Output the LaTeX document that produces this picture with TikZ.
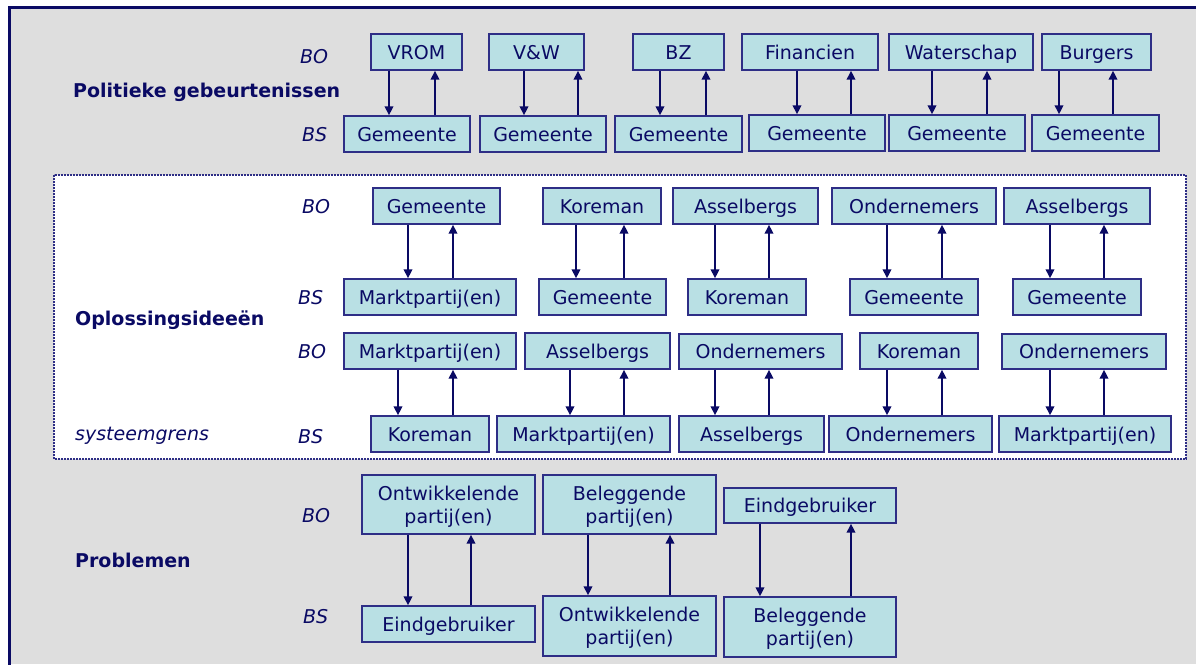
\documentclass[tikz,border=0pt]{standalone}
\usepackage{fontspec}
\setmainfont{DejaVu Sans}
\usetikzlibrary{arrows.meta}

\definecolor{ink}{RGB}{10,10,100}
\definecolor{boxline}{RGB}{46,46,134}
\definecolor{boxfill}{RGB}{185,224,228}
\definecolor{panel}{RGB}{222,222,222}

% actor box given by its corners: name, x1, y1, x2, y2, text
\newcommand\actor[7][]{%
  \node[actorbox,#1,
        minimum width={(#5-#3)*1pt}, minimum height={(#6-#4)*1pt}]
        (#2) at ({(#3+#5)/2},{(#4+#6)/2}) {#7};}

% down arrow (upper -> lower) and up arrow (lower -> upper) at two x positions
\newcommand\exchange[4]{%
  \coordinate (xdn) at (#3,0);
  \coordinate (xup) at (#4,0);
  \draw[flow] (#1.south -| xdn) -- (#2.north -| xdn);
  \draw[flow] (#2.north -| xup) -- (#1.south -| xup);}

\begin{document}
\begin{tikzpicture}[x=1pt,y=-1pt,
  actorbox/.style={draw=boxline, fill=boxfill, line width=1.4pt, inner sep=0pt,
    text=ink, font=\fontsize{19}{23}\selectfont,
    text height=17.5pt, text depth=3.5pt},
  twoline/.style={align=center, text height=40.5pt, text depth=3.5pt},
  flow/.style={draw=ink, line width=1.8pt, -{Triangle[width=8.5pt,length=9pt]}},
  lab/.style={inner sep=0pt, anchor=base west, text=ink,
    font=\fontsize{19}{23}\selectfont\itshape},
  head/.style={inner sep=0pt, anchor=base west, text=ink,
    font=\fontsize{19}{23}\selectfont\bfseries}]

\useasboundingbox (0,0) rectangle (1196,664);
\fill[white] (0,0) rectangle (1196,664);
\fill[panel] (9,7) rectangle (1196,664);
\draw[ink, line width=3pt] (9,666) -- (9,7) -- (1198,7);

% system boundary
\draw[boxline, fill=white, line width=1.6pt, dash pattern=on 1.6pt off 1.4pt]
  (54,175) rectangle (1186,459);

% ---------- Politieke gebeurtenissen ----------
\node[head] (hpol) at (73,97) {Politieke gebeurtenissen};
\node[lab] (pbo) at (300,63) {BO};
\node[lab] (pbs) at (302,141) {BS};

\actor{p1o}{371}{34}{462}{70}{VROM}
\actor{p1s}{344}{116}{470}{152}{Gemeente}
\exchange{p1o}{p1s}{389}{435}
\actor{p2o}{489}{34}{584}{70}{V\&W}
\actor{p2s}{480}{116}{606}{152}{Gemeente}
\exchange{p2o}{p2s}{524}{578}
\actor{p3o}{633}{34}{724}{70}{BZ}
\actor{p3s}{615}{116}{742}{152}{Gemeente}
\exchange{p3o}{p3s}{660}{706}
\actor{p4o}{742}{34}{878}{70}{Financien}
\actor{p4s}{749}{115}{885}{151}{Gemeente}
\exchange{p4o}{p4s}{797}{851}
\actor{p5o}{889}{34}{1033}{70}{Waterschap}
\actor{p5s}{889}{115}{1025}{151}{Gemeente}
\exchange{p5o}{p5s}{932}{987}
\actor{p6o}{1042}{34}{1151}{70}{Burgers}
\actor{p6s}{1032}{115}{1159}{151}{Gemeente}
\exchange{p6o}{p6s}{1059}{1113}

% ---------- Oplossingsideeen ----------
\node[head] (hopl) at (75,325) {Oplossingsideeën};
\node[lab] (sgr) at (75,440) {systeemgrens};
\node[lab] (obo) at (302,213) {BO};
\node[lab] (obs) at (298,304) {BS};
\node[lab] (qbo) at (298,358) {BO};
\node[lab] (qbs) at (298,443) {BS};

\actor{o1o}{373}{188}{500}{224}{Gemeente}
\actor{o1s}{344}{279}{516}{315}{Marktpartij(en)}
\exchange{o1o}{o1s}{408}{453}
\actor{o2o}{543}{188}{661}{224}{Koreman}
\actor{o2s}{539}{279}{666}{315}{Gemeente}
\exchange{o2o}{o2s}{576}{624}
\actor{o3o}{673}{188}{818}{224}{Asselbergs}
\actor{o3s}{688}{279}{806}{315}{Koreman}
\exchange{o3o}{o3s}{715}{769}
\actor{o4o}{832}{188}{996}{224}{Ondernemers}
\actor{o4s}{850}{279}{978}{315}{Gemeente}
\exchange{o4o}{o4s}{887}{942}
\actor{o5o}{1004}{188}{1150}{224}{Asselbergs}
\actor{o5s}{1013}{279}{1141}{315}{Gemeente}
\exchange{o5o}{o5s}{1050}{1104}

\actor{q1o}{344}{333}{516}{369}{Marktpartij(en)}
\actor{q1s}{371}{416}{489}{452}{Koreman}
\exchange{q1o}{q1s}{398}{453}
\actor{q2o}{525}{333}{670}{369}{Asselbergs}
\actor{q2s}{497}{416}{670}{452}{Marktpartij(en)}
\exchange{q2o}{q2s}{570}{624}
\actor{q3o}{679}{334}{842}{369}{Ondernemers}
\actor{q3s}{679}{416}{824}{452}{Asselbergs}
\exchange{q3o}{q3s}{715}{769}
\actor{q4o}{860}{333}{978}{369}{Koreman}
\actor{q4s}{829}{416}{992}{452}{Ondernemers}
\exchange{q4o}{q4s}{887}{942}
\actor{q5o}{1002}{334}{1166}{369}{Ondernemers}
\actor{q5s}{999}{416}{1171}{452}{Marktpartij(en)}
\exchange{q5o}{q5s}{1050}{1104}

% ---------- Problemen ----------
\node[head] (hprb) at (75,567) {Problemen};
\node[lab] (rbo) at (302,522) {BO};
\node[lab] (rbs) at (303,623) {BS};

\actor[twoline]{r1o}{362}{475}{535}{534}{Ontwikkelende\\partij(en)}
\actor{r1s}{362}{606}{535}{642}{Eindgebruiker}
\exchange{r1o}{r1s}{408}{471}
\actor[twoline]{r2o}{543}{475}{716}{534}{Beleggende\\partij(en)}
\actor[twoline]{r2s}{543}{596}{716}{656}{Ontwikkelende\\partij(en)}
\exchange{r2o}{r2s}{588}{670}
\actor{r3o}{724}{488}{896}{523}{Eindgebruiker}
\actor[twoline]{r3s}{724}{597}{896}{657}{Beleggende\\partij(en)}
\exchange{r3o}{r3s}{760}{851}

\end{tikzpicture}
\end{document}
